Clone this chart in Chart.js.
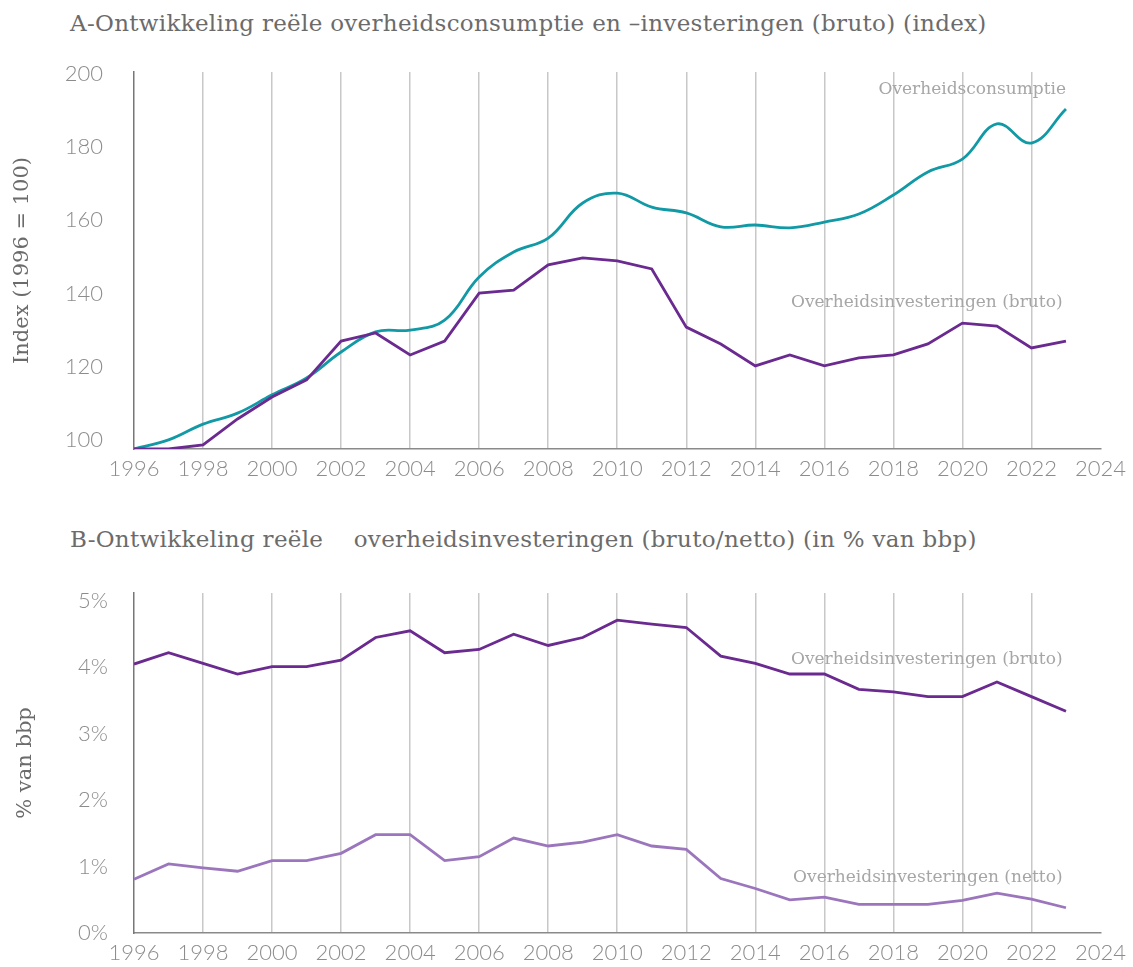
<!DOCTYPE html>
<html>
<head>
<meta charset="utf-8">
<script src="https://cdn.jsdelivr.net/npm/chart.js@4/dist/chart.umd.min.js"></script>
<style>
  html, body { margin: 0; padding: 0; background: #fff; }
  #page { position: relative; width: 1133px; height: 967px; overflow: hidden; }
  .title { position: absolute; left: 70px; font-family: "DejaVu Serif", serif; font-size: 23px; letter-spacing: 0.3px; color: #6b6b6b; white-space: pre; line-height: 1; }
  #titleA { top: 12px; }
  #titleB { top: 528px; }
  #boxA { position: absolute; left: 0; top: 50px; width: 1133px; height: 440px; }
  #boxB { position: absolute; left: 0; top: 570px; width: 1133px; height: 397px; }
</style>
</head>
<body>
<div id="page">
  <div class="title" id="titleA">A-Ontwikkeling reële overheidsconsumptie en –investeringen (bruto) (index)</div>
  <div class="title" id="titleB">B-Ontwikkeling reële    overheidsinvesteringen (bruto/netto) (in % van bbp)</div>
  <div id="boxA"><canvas id="chartA"></canvas></div>
  <div id="boxB"><canvas id="chartB"></canvas></div>
</div>
<script>
// jaren 1996-2023
var years = [1996, 1997, 1998, 1999, 2000, 2001, 2002, 2003, 2004, 2005, 2006, 2007, 2008, 2009,
             2010, 2011, 2012, 2013, 2014, 2015, 2016, 2017, 2018, 2019, 2020, 2021, 2022, 2023];

// A: index (1996 = 100)
var consumptie = [97.5, 100.0, 104.3, 107.3, 112.3, 116.9, 124.0, 129.5, 130.0, 132.7, 144.5, 151.3, 155.1, 164.7,
                  167.4, 163.6, 162.0, 158.2, 158.7, 157.9, 159.5, 161.7, 166.9, 173.2, 176.7, 186.3, 181.1, 190.4];
var investBrutoIndex = [97.5, 97.5, 98.6, 105.7, 111.7, 116.4, 127.0, 129.2, 123.2, 127.0, 140.1, 140.9, 147.8, 149.7,
                        148.9, 146.7, 130.8, 126.2, 120.2, 123.2, 120.2, 122.4, 123.2, 126.2, 131.9, 131.1, 125.1, 127.0];

// B: % van bbp
var investBrutoBbp = [4.05, 4.22, 4.06, 3.90, 4.01, 4.01, 4.11, 4.45, 4.55, 4.22, 4.27, 4.50, 4.33, 4.45,
                      4.71, 4.65, 4.60, 4.17, 4.06, 3.90, 3.90, 3.67, 3.63, 3.56, 3.56, 3.78, 3.56, 3.34];
var investNettoBbp = [0.81, 1.04, 0.98, 0.93, 1.09, 1.09, 1.20, 1.48, 1.48, 1.09, 1.15, 1.43, 1.31, 1.37,
                      1.48, 1.31, 1.26, 0.82, 0.67, 0.50, 0.54, 0.43, 0.43, 0.43, 0.49, 0.60, 0.51, 0.38];

var indexTicks = [100, 120, 140, 160, 180, 200];
var pctTicks = [0, 1, 2, 3, 4, 5];

var TEAL = '#1199a6';
var PURPLE = '#6a2a8f';
var LILAC = '#9b76bd';

function pts(ys) {
    return years.map(function(y, i) { return {x: y, y: ys[i]}; });
}

// tekstlabels bij de lijnen
var lineLabels = {
    id: 'lineLabels',
    afterDatasetsDraw: function(chart, args, opts) {
        var ctx = chart.ctx;
        var xs = chart.scales.x, ys = chart.scales.y;
        ctx.save();
        ctx.font = '17px "DejaVu Serif", serif';
        ctx.fillStyle = '#a6a6a6';
        ctx.textAlign = 'right';
        ctx.textBaseline = 'middle';
        (opts.items || []).forEach(function(it) {
            ctx.fillText(it.text, xs.getPixelForValue(it.x), ys.getPixelForValue(it.y));
        });
        ctx.restore();
    }
};

function xScale(height) {
    return {
        type: 'linear',
        min: 1996,
        max: 2024,
        afterBuildTicks: function(s) {
            var t = [];
            for (var y = 1996; y <= 2024; y += 2) t.push({value: y});
            s.ticks = t;
        },
        afterFit: function(s) { s.height = height; },
        ticks: {
            font: {family: 'Lato', weight: '300', size: 22},
            color: '#8c8c8c',
            padding: 7,
            maxRotation: 0,
            autoSkip: false,
            callback: function(v) { return String(v); }
        },
        grid: {
            drawTicks: false,
            lineWidth: 1.5,
            color: function(c) {
                var v = c.tick && c.tick.value;
                return (v === 1996 || v === 2024) ? 'rgba(0,0,0,0)' : '#c8c8c8';
            }
        },
        border: {color: '#8a8a8a', width: 1.5}
    };
}

function yScale(min, max, tickList, fmt, title, padTitle, padTicks) {
    return {
        min: min,
        max: max,
        afterBuildTicks: function(s) {
            s.ticks = tickList.map(function(v) { return {value: v}; });
        },
        afterFit: function(s) {
            s.width = 134;
            s.paddingTop = 0;
            s.paddingBottom = 0;
        },
        ticks: {
            font: {family: 'Lato', weight: '300', size: 22},
            color: '#8c8c8c',
            padding: padTicks,
            callback: fmt
        },
        grid: {display: false, drawTicks: false},
        border: {color: '#777777', width: 1.5},
        title: {
            display: true,
            text: title,
            color: '#6b6b6b',
            font: {family: 'DejaVu Serif', size: 21},
            padding: {top: padTitle, bottom: 0}
        }
    };
}

function lineDs(label, data, color, tension) {
    return {
        label: label,
        data: pts(data),
        borderColor: color,
        backgroundColor: color,
        borderWidth: 2.8,
        pointRadius: 0,
        tension: tension,
        fill: false
    };
}

new Chart(document.getElementById('chartA'), {
    type: 'line',
    data: {
        datasets: [
            lineDs('Overheidsinvesteringen (bruto)', investBrutoIndex, PURPLE, 0),
            lineDs('Overheidsconsumptie', consumptie, TEAL, 0.4)
        ]
    },
    options: {
        responsive: true,
        maintainAspectRatio: false,
        animation: false,
        layout: {padding: {top: 22, right: 29, bottom: 0, left: 0}},
        scales: {
            x: xScale(41),
            y: yScale(97.5, 200.5, indexTicks, function(v) { return String(v); },
                      'Index (1996 = 100)', 10, 31)
        },
        plugins: {
            legend: {display: false},
            tooltip: {enabled: false},
            lineLabels: {
                items: [
                    {text: 'Overheidsconsumptie', x: 2023.0, y: 195.6},
                    {text: 'Overheidsinvesteringen (bruto)', x: 2022.9, y: 137.4}
                ]
            }
        }
    },
    plugins: [lineLabels]
});

new Chart(document.getElementById('chartB'), {
    type: 'line',
    data: {
        datasets: [
            lineDs('Overheidsinvesteringen (bruto)', investBrutoBbp, PURPLE, 0),
            lineDs('Overheidsinvesteringen (netto)', investNettoBbp, LILAC, 0)
        ]
    },
    options: {
        responsive: true,
        maintainAspectRatio: false,
        animation: false,
        layout: {padding: {top: 23, right: 29, bottom: 0, left: 0}},
        scales: {
            x: xScale(34),
            y: yScale(0, 5.12, pctTicks, function(v) { return v + '%'; },
                      '% van bbp', 13, 26)
        },
        plugins: {
            legend: {display: false},
            tooltip: {enabled: false},
            lineLabels: {
                items: [
                    {text: 'Overheidsinvesteringen (bruto)', x: 2022.9, y: 4.11},
                    {text: 'Overheidsinvesteringen (netto)', x: 2022.9, y: 0.84}
                ]
            }
        }
    },
    plugins: [lineLabels]
});
</script>
</body>
</html>
